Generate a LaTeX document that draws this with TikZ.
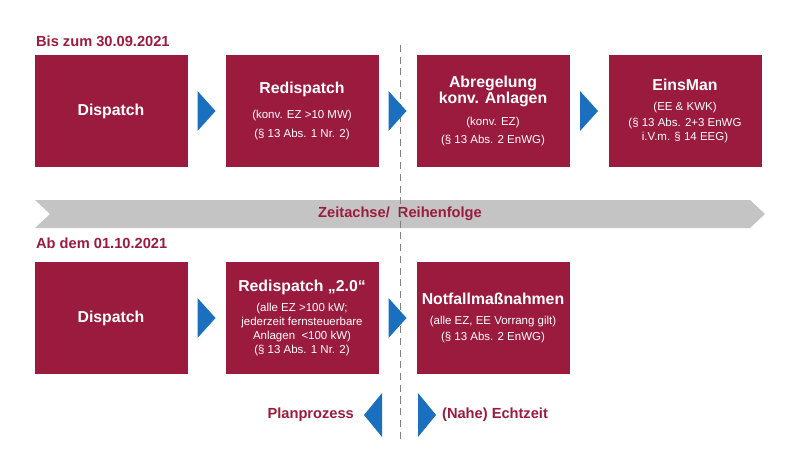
\documentclass[tikz,border=0pt]{standalone}
\usepackage{fontspec}
\setmainfont{Liberation Sans}
\usepackage{tikz}
\usetikzlibrary{positioning}
\definecolor{dbred}{HTML}{9B1B3F}
\definecolor{dbblue}{HTML}{1A6FBE}
\definecolor{dbgray}{HTML}{C4C4C4}
\tikzset{
  stage/.style={fill=dbred,text=white,minimum width=153*0.03cm,minimum height=112*0.03cm,align=center,inner sep=2pt,font=\fontsize{9.8}{12}\selectfont},
  heading/.style={text=dbred,font=\bfseries\fontsize{12.5}{14}\selectfont,anchor=west},
  tip/.style={fill=dbblue},
}
\newcommand{\ttl}[1]{{\bfseries\fontsize{13.5}{16}\selectfont #1}}
\begin{document}
\begin{tikzpicture}[x=0.03cm,y=-0.03cm]
\useasboundingbox (0,0) rectangle (800,451);
% time axis
\fill[dbgray] (35,200) -- (750,200) -- (765,214) -- (750,228) -- (35,228) -- (50,214) -- cycle;
\node[font=\bfseries\fontsize{12.5}{14}\selectfont,text=dbred] (axis) at (400,214) {Zeitachse/\ \ Reihenfolge};
\draw[dashed,dash pattern=on 6pt off 4pt,gray,thick] (400,45) -- (400,440);
% headings
\node[heading] (h1) at (32,41) {Bis zum 30.09.2021};
\node[heading] (h2) at (32,243) {Ab dem 01.10.2021};
% top row
\node[stage] (d1) at (111,111) {\ttl{Dispatch}};
\node[stage] (r1) at (302,111) {\ttl{Redispatch}\\[9pt](konv. EZ >10 MW)\\[4pt](§ 13 Abs. 1 Nr. 2)};
\node[stage] (a1) at (493,111) {\ttl{Abregelung}\\\ttl{konv. Anlagen}\\[7pt](konv. EZ)\\[3pt](§ 13 Abs. 2 EnWG)};
\node[stage] (e1) at (685,111) {\ttl{EinsMan}\\[5pt](EE \& KWK)\\[2pt](§ 13 Abs. 2+3 EnWG\\i.V.m. § 14 EEG)};
% bottom row
\node[stage] (d2) at (111,318) {\ttl{Dispatch}};
\node[stage] (r2) at (302,318) {\ttl{Redispatch „2.0“}\\[5pt](alle EZ >100 kW;\\jederzeit fernsteuerbare\\Anlagen \ <100 kW)\\(§ 13 Abs. 1 Nr. 2)};
\node[stage] (n2) at (493,318) {\ttl{Notfallmaßnahmen}\\[5pt](alle EZ, EE Vorrang gilt)\\[2pt](§ 13 Abs. 2 EnWG)};
% blue tips
\foreach \a/\b in {d1/r1,r1/a1,a1/e1,d2/r2,r2/n2}{
  \path (\a.east) -- (\b.west) coordinate[pos=0.5] (m);
  \fill[tip] ([xshift=-9*0.03cm,yshift=20*0.03cm]m) -- ([xshift=9*0.03cm]m) -- ([xshift=-9*0.03cm,yshift=-20*0.03cm]m) -- cycle;
}
% process direction
\fill[tip] (382,393) -- (364,415) -- (382,437) -- cycle;
\fill[tip] (418,393) -- (436,415) -- (418,437) -- cycle;
\node[heading,anchor=east] (plan) at (358,415) {Planprozess};
\node[heading] (echt) at (438,415) {(Nahe) Echtzeit};
\end{tikzpicture}
\end{document}
